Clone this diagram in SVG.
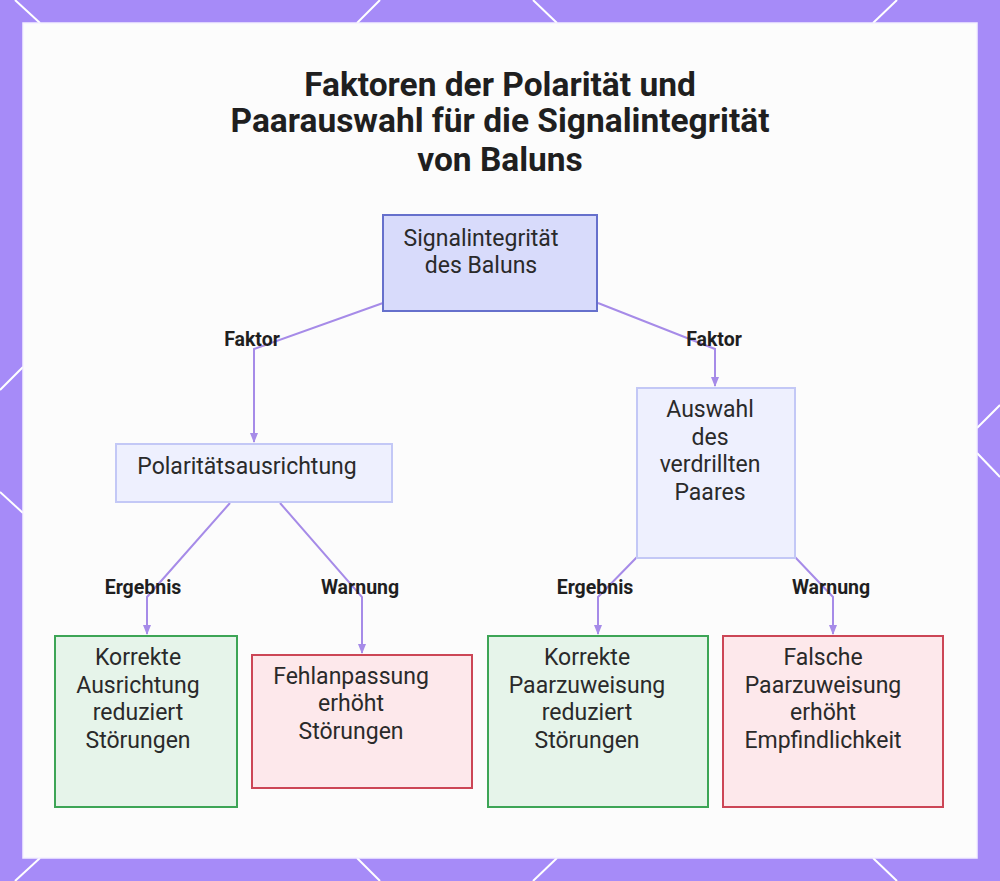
<svg xmlns="http://www.w3.org/2000/svg" width="1000" height="881" viewBox="0 0 1000 881">
<defs>
<style>
.deco{stroke:#ffffff;stroke-width:2;fill:none}
.title{font-family:Roboto,"Liberation Sans",sans-serif;font-weight:700;font-size:33.5px;fill:#1f1f1f;text-anchor:middle}
.nt{font-family:Roboto,"Liberation Sans",sans-serif;font-size:23px;fill:#2a2a2a;text-anchor:middle}
.lbl{font-family:Roboto,"Liberation Sans",sans-serif;font-weight:700;font-size:19.5px;fill:#1f1f1f;text-anchor:middle}
.edge{stroke:#a68be8;stroke-width:2;fill:none}
.root{fill:#d8dbfb;stroke:#6670cc;stroke-width:2}
.mid{fill:#eef0fe;stroke:#c3c8f6;stroke-width:2}
.good{fill:#e6f4ea;stroke:#3da556;stroke-width:2}
.bad{fill:#fde8eb;stroke:#cc4656;stroke-width:2}
</style>
<marker id="arr" viewBox="0 0 10 10" refX="9" refY="5" markerWidth="5" markerHeight="5" orient="auto">
<path d="M0,1 L10,5 L0,9 z" fill="#a68be8"/>
</marker>
</defs>
<rect x="0" y="0" width="1000" height="881" fill="#a68bf8"/>
<g id="decor">
<line class="deco" x1="15" y1="0" x2="40" y2="23"/>
<line class="deco" x1="897" y1="0" x2="873" y2="23"/>
<line class="deco" x1="40" y1="858" x2="15" y2="881"/>
<line class="deco" x1="873" y1="858" x2="897" y2="881"/>
<line class="deco" x1="0" y1="390" x2="23" y2="367"/>
<line class="deco" x1="0" y1="492" x2="23" y2="513"/>
<line class="deco" x1="977" y1="428" x2="1000" y2="405"/>
<line class="deco" x1="977" y1="453" x2="1000" y2="477"/>
<line class="deco" x1="380" y1="0" x2="357" y2="23"/>
<line class="deco" x1="533" y1="0" x2="557" y2="23"/>
<line class="deco" x1="357" y1="858" x2="380" y2="881"/>
<line class="deco" x1="557" y1="858" x2="533" y2="881"/>
</g>
<rect x="23" y="23" width="954" height="835" fill="#fcfcfc" stroke="#f4f0ff" stroke-width="1.5"/>
<g id="title">
<text class="title" x="500" y="96">Faktoren der Polarität und</text>
<text class="title" x="500" y="132">Paarauswahl für die Signalintegrität</text>
<text class="title" x="500" y="171">von Baluns</text>
</g>
<g id="connectors">
<polyline class="edge" points="383,303 254,349 254,442" marker-end="url(#arr)"/>
<polyline class="edge" points="598,303 715,349 715,386" marker-end="url(#arr)"/>
<polyline class="edge" points="230,503 147,597 147,634" marker-end="url(#arr)"/>
<polyline class="edge" points="280,503 362,597 362,653" marker-end="url(#arr)"/>
<polyline class="edge" points="637,557 598,597 598,634" marker-end="url(#arr)"/>
<polyline class="edge" points="795,557 833,597 833,634" marker-end="url(#arr)"/>
<text class="lbl" x="252" y="346">Faktor</text>
<text class="lbl" x="714" y="346">Faktor</text>
<text class="lbl" x="143" y="594">Ergebnis</text>
<text class="lbl" x="360" y="594">Warnung</text>
<text class="lbl" x="595" y="594">Ergebnis</text>
<text class="lbl" x="831" y="594">Warnung</text>
</g>
<g id="node-root">
<rect class="root" x="383" y="215" width="214" height="96"/>
<text class="nt" x="481" y="246">Signalintegrität</text>
<text class="nt" x="481" y="273">des Baluns</text>
</g>
<g id="node-polaritaet">
<rect class="mid" x="116" y="444" width="276" height="58"/>
<text class="nt" x="247" y="474">Polaritätsausrichtung</text>
</g>
<g id="node-auswahl">
<rect class="mid" x="637" y="388" width="158" height="170"/>
<text class="nt" x="710" y="417">Auswahl</text>
<text class="nt" x="710" y="445">des</text>
<text class="nt" x="710" y="472">verdrillten</text>
<text class="nt" x="710" y="500">Paares</text>
</g>
<g id="node-korrekt-ausrichtung">
<rect class="good" x="55" y="636" width="182" height="171"/>
<text class="nt" x="138" y="665">Korrekte</text>
<text class="nt" x="138" y="693">Ausrichtung</text>
<text class="nt" x="138" y="720">reduziert</text>
<text class="nt" x="138" y="748">Störungen</text>
</g>
<g id="node-fehlanpassung">
<rect class="bad" x="252" y="655" width="220" height="133"/>
<text class="nt" x="351" y="684">Fehlanpassung</text>
<text class="nt" x="351" y="711">erhöht</text>
<text class="nt" x="351" y="739">Störungen</text>
</g>
<g id="node-korrekt-paar">
<rect class="good" x="488" y="636" width="220" height="171"/>
<text class="nt" x="587" y="665">Korrekte</text>
<text class="nt" x="587" y="693">Paarzuweisung</text>
<text class="nt" x="587" y="720">reduziert</text>
<text class="nt" x="587" y="748">Störungen</text>
</g>
<g id="node-falsch-paar">
<rect class="bad" x="723" y="636" width="220" height="171"/>
<text class="nt" x="823" y="665">Falsche</text>
<text class="nt" x="823" y="693">Paarzuweisung</text>
<text class="nt" x="823" y="720">erhöht</text>
<text class="nt" x="823" y="748">Empfindlichkeit</text>
</g>
</svg>
